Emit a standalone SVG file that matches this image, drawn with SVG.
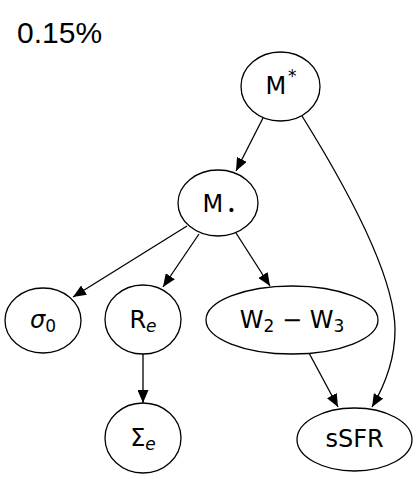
<svg xmlns="http://www.w3.org/2000/svg" width="417" height="479" viewBox="0 0 417 479">
<style>
.n{fill:#fff;stroke:#000;stroke-width:1.3}
.t{font-family:"DejaVu Sans",sans-serif;font-size:24px;fill:#000;text-anchor:middle}
.s{font-size:17px}
.e{stroke:#000;stroke-width:1.3;fill:none;marker-end:url(#a)}
</style>
<defs>
<marker id="a" markerUnits="userSpaceOnUse" markerWidth="13" markerHeight="11" refX="13" refY="5.5" orient="auto"><path d="M0,0 L13,5.5 L0,11 z" fill="#000"/></marker>
</defs>
<rect width="417" height="479" fill="#fff"/>
<text x="17" y="43" font-family="'Liberation Sans',sans-serif" font-size="30">0.15%</text>
<g id="edges">
<path class="e" d="M263,118 L236,171"/>
<path class="e" d="M302,116 C345,185 395,275 395,330 C395,360 385,385 372,407"/>
<path class="e" d="M187,226 L73,297"/>
<path class="e" d="M199,234 L163,287"/>
<path class="e" d="M236,233 L270,286"/>
<path class="e" d="M143,354 L143,403"/>
<path class="e" d="M309,353 L338,407"/>
</g>
<g id="Mstar"><ellipse class="n" cx="280.5" cy="86.5" rx="39.5" ry="34.5"/><text class="t" x="281" y="94">M<tspan class="s" dx="2" dy="-12">*</tspan></text></g>
<g id="Mbh"><ellipse class="n" cx="218" cy="203" rx="40" ry="33"/><text class="t" x="219" y="212">M<tspan dx="4" dy="3" font-size="14">•</tspan></text></g>
<g id="sigma"><ellipse class="n" cx="43" cy="320.5" rx="38" ry="32.5"/><text class="t" x="43" y="328"><tspan font-style="italic">σ</tspan><tspan class="s" dy="4">0</tspan></text></g>
<g id="Re"><ellipse class="n" cx="143" cy="319.5" rx="38" ry="34.5"/><text class="t" x="143" y="328">R<tspan class="s" dy="4" font-style="italic">e</tspan></text></g>
<g id="W"><ellipse class="n" cx="292" cy="320" rx="86" ry="34"/><text class="t" x="292" y="328">W<tspan class="s" dy="4">2</tspan><tspan dy="-4"> − W</tspan><tspan class="s" dy="4">3</tspan></text></g>
<g id="Sigma"><ellipse class="n" cx="143" cy="438" rx="38" ry="35"/><text class="t" x="143" y="446">Σ<tspan class="s" dy="4" font-style="italic">e</tspan></text></g>
<g id="sSFR"><ellipse class="n" cx="354.5" cy="439.5" rx="57.5" ry="31.5"/><text class="t" x="354.5" y="447">sSFR</text></g>
</svg>
